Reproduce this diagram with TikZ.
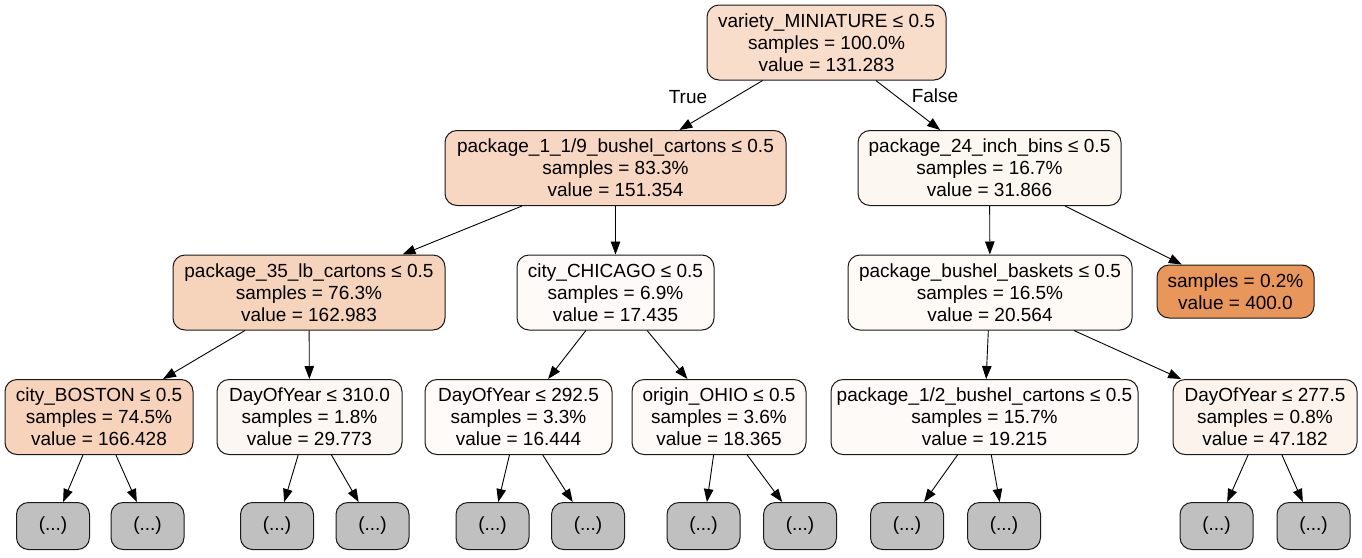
\documentclass[tikz,border=0pt]{standalone}
\usepackage{fontspec}
\setmainfont{Liberation Sans}
\usetikzlibrary{arrows.meta}
\definecolor{leafc}{HTML}{E58139}
\definecolor{ellip}{HTML}{C0C0C0}
\begin{document}
\begin{tikzpicture}[x=1pt,y=-1pt,
  tnode/.style={draw=black!90, line width=1pt, rounded corners=12pt, align=center,
    font=\fontsize{19}{22}\selectfont, inner sep=0pt},
  split/.style={tnode, minimum height=75pt},
  more/.style={tnode, fill=ellip, minimum width=73pt, minimum height=47pt},
  edge/.style={-{Triangle[length=13pt,width=9.5pt]}, line width=0.9pt},
  elabel/.style={font=\fontsize{19}{22}\selectfont}]
\useasboundingbox (0,0) rectangle (1362,557);

% depth 0
\node[split, fill=leafc!27, minimum width=239pt] (n0) at (826.5,42.5)
  {variety\_MINIATURE ≤ 0.5\\samples = 100.0\%\\value = 131.283};
% depth 1
\node[split, fill=leafc!31.5, minimum width=341pt] (n1) at (615.5,168)
  {package\_1\_1/9\_bushel\_cartons ≤ 0.5\\samples = 83.3\%\\value = 151.354};
\node[split, fill=leafc!6.6, minimum width=263pt] (n2) at (989.5,168)
  {package\_24\_inch\_bins ≤ 0.5\\samples = 16.7\%\\value = 31.866};
% depth 2
\node[split, fill=leafc!34, minimum width=272pt] (n3) at (309,292.5)
  {package\_35\_lb\_cartons ≤ 0.5\\samples = 76.3\%\\value = 162.983};
\node[split, fill=leafc!3.6, minimum width=197pt] (n4) at (615.5,292.5)
  {city\_CHICAGO ≤ 0.5\\samples = 6.9\%\\value = 17.435};
\node[split, fill=leafc!4.3, minimum width=284pt] (n5) at (990,292.5)
  {package\_bushel\_baskets ≤ 0.5\\samples = 16.5\%\\value = 20.564};
\node[tnode, fill=leafc!83, minimum width=157pt, minimum height=53pt] (n6) at (1235.5,291.5)
  {samples = 0.2\%\\value = 400.0};
% depth 3
\node[split, fill=leafc!34.7, minimum width=188pt] (n7) at (99,417)
  {city\_BOSTON ≤ 0.5\\samples = 74.5\%\\value = 166.428};
\node[split, fill=leafc!6.2, minimum width=185pt] (n8) at (309.5,417)
  {DayOfYear ≤ 310.0\\samples = 1.8\%\\value = 29.773};
\node[split, fill=leafc!3.4, minimum width=187pt] (n9) at (518.5,417)
  {DayOfYear ≤ 292.5\\samples = 3.3\%\\value = 16.444};
\node[split, fill=leafc!3.8, minimum width=174pt] (n10) at (719,417)
  {origin\_OHIO ≤ 0.5\\samples = 3.6\%\\value = 18.365};
\node[split, fill=leafc!4, minimum width=307pt] (n11) at (984.5,417)
  {package\_1/2\_bushel\_cartons ≤ 0.5\\samples = 15.7\%\\value = 19.215};
\node[split, fill=leafc!9.8, minimum width=184pt] (n12) at (1265,417)
  {DayOfYear ≤ 277.5\\samples = 0.8\%\\value = 47.182};
% truncated subtrees
\node[more] (m1) at (53,526) {(...)};
\node[more] (m2) at (147.5,526) {(...)};
\node[more] (m3) at (277,526) {(...)};
\node[more] (m4) at (372.5,526) {(...)};
\node[more] (m5) at (492.5,526) {(...)};
\node[more] (m6) at (588,526) {(...)};
\node[more] (m7) at (703.5,526) {(...)};
\node[more] (m8) at (800,526) {(...)};
\node[more] (m9) at (907,526) {(...)};
\node[more] (m10) at (1004,526) {(...)};
\node[more] (m11) at (1216.5,526) {(...)};
\node[more] (m12) at (1313.5,526) {(...)};

% edge labels
\node[elabel] (ltrue) at (688,97) {True};
\node[elabel] (lfalse) at (935,96) {False};

% edges
\foreach \a/\b in {n0/n1, n0/n2, n1/n3, n1/n4, n2/n5, n2/n6,
  n3/n7, n3/n8, n4/n9, n4/n10, n5/n11, n5/n12,
  n7/m1, n7/m2, n8/m3, n8/m4, n9/m5, n9/m6,
  n10/m7, n10/m8, n11/m9, n11/m10, n12/m11, n12/m12}
  \draw[edge] (\a) -- (\b);
\end{tikzpicture}
\end{document}
